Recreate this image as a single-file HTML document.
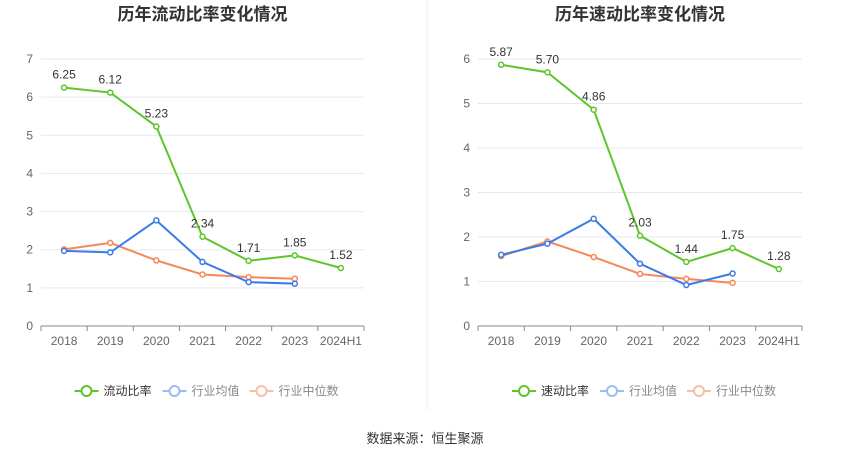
<!DOCTYPE html>
<html><head><meta charset="utf-8"><style>
body{margin:0;background:#fff;font-family:"Liberation Sans","Noto Sans CJK SC",sans-serif}
svg text{font-family:"Liberation Sans","Noto Sans CJK SC",sans-serif}
</style></head><body>
<svg id="s" width="850" height="459">
<line x1="427" y1="0" x2="427" y2="410" stroke="#eee"/>
<text x="425" y="443" text-anchor="middle" font-size="13" fill="#333">数据来源：恒生聚源</text>
</svg>
<script>
const categories=["2018","2019","2020","2021","2022","2023","2024H1"];
const currentRatio=[6.25,6.12,5.23,2.34,1.71,1.85,1.52];
const currentAvg=[1.97,1.93,2.77,1.68,1.15,1.11];
const currentMedian=[2.01,2.18,1.72,1.35,1.28,1.24];
const quickRatio=[5.87,5.70,4.86,2.03,1.44,1.75,1.28];
const quickAvg=[1.60,1.85,2.41,1.40,0.92,1.18];
const quickMedian=[1.57,1.90,1.55,1.17,1.06,0.97];
const leftTicks=[0,1,2,3,4,5,6,7];
const rightTicks=[0,1,2,3,4,5,6];
const svg=document.getElementById('s');
const NS='http://www.w3.org/2000/svg';
function mk(t,a,p){const e=document.createElementNS(NS,t);for(const k in a)e.setAttribute(k,a[k]);(p||svg).appendChild(e);return e;}
function chart(o){
  const g=mk('g',{});
  
  
  const x0=o.x0,x1=o.x1,yB=326,yT=59,max=o.ticks[o.ticks.length-1];
  const step=(x1-x0)/categories.length;
  const X=i=>x0+step*(i+0.5);
  const Y=v=>yB-(v/max)*(yB-yT);
  const t=mk('text',{x:(x0+x1)/2,y:20,'text-anchor':'middle','font-size':17,'font-weight':'bold',fill:'#333'},g);
  t.textContent=o.title;
  
  
  o.ticks.forEach(v=>{
    if(v>0){const l=mk('line',{x1:x0,x2:x1,y1:Y(v),y2:Y(v),stroke:'#e6e8f0'},g);
    
    }
    const tx=mk('text',{x:x0-8,y:Y(v)+4,'text-anchor':'end','font-size':12,fill:'#666'},g);
    tx.textContent=v;
    
    
  });
  const ax=mk('line',{x1:x0,x2:x1,y1:yB,y2:yB,stroke:'#888'},g);
  
  
  categories.forEach((c,i)=>{
    mk('line',{x1:x0+step*i,x2:x0+step*i,y1:yB,y2:yB+5,stroke:'#888'},g);
    const tx=mk('text',{x:X(i),y:yB+19,'text-anchor':'middle','font-size':12,fill:'#666'},g);
    tx.textContent=c;
    
    
  });
  mk('line',{x1:x1,x2:x1,y1:yB,y2:yB+5,stroke:'#888'},g);
  const series=[[o.median,'#f5875a','median'],[o.avg,'#3b7be8','average'],[o.main,'#5ec52a','main']];
  series.forEach(([d,col,nm])=>{
    const p=mk('polyline',{points:d.map((v,i)=>X(i)+','+Y(v)).join(' '),fill:'none',stroke:col,'stroke-width':2},g);
    
    
    d.forEach((v,i)=>{
      const c=mk('circle',{cx:X(i),cy:Y(v),r:2.5,fill:'#fff',stroke:col,'stroke-width':1.5},g);
      
      
      if(nm==='main'){
        const lt=mk('text',{x:X(i),y:Y(v)-9,'text-anchor':'middle','font-size':12,fill:'#333'},g);
        lt.textContent=v.toFixed(2);
        
        
      }
    });
  });
  const lx=(x0+x1)/2-128;
  [[o.mainName,'#5ec52a','#333'],['行业均值','#9bbcf2','#888'],['行业中位数','#f8bfa6','#888']].forEach(([n,col,tc],k)=>{
    const xs=lx+[0,88,175][k];
    const lg=mk('g',{},g);
    
    
    mk('line',{x1:xs,x2:xs+24,y1:391,y2:391,stroke:col,'stroke-width':2},lg);
    mk('circle',{cx:xs+12,cy:391,r:5,fill:'#fff',stroke:col,'stroke-width':2},lg);
    const tx=mk('text',{x:xs+29,y:395,'font-size':12,fill:tc},lg);
    tx.textContent=n;
  });
}
chart({name:'current-ratio-chart',title:'历年流动比率变化情况',x0:41,x1:364,ticks:leftTicks,main:currentRatio,avg:currentAvg,median:currentMedian,mainName:'流动比率'});
chart({name:'quick-ratio-chart',title:'历年速动比率变化情况',x0:478,x1:802,ticks:rightTicks,main:quickRatio,avg:quickAvg,median:quickMedian,mainName:'速动比率'});
</script>
</body></html>
